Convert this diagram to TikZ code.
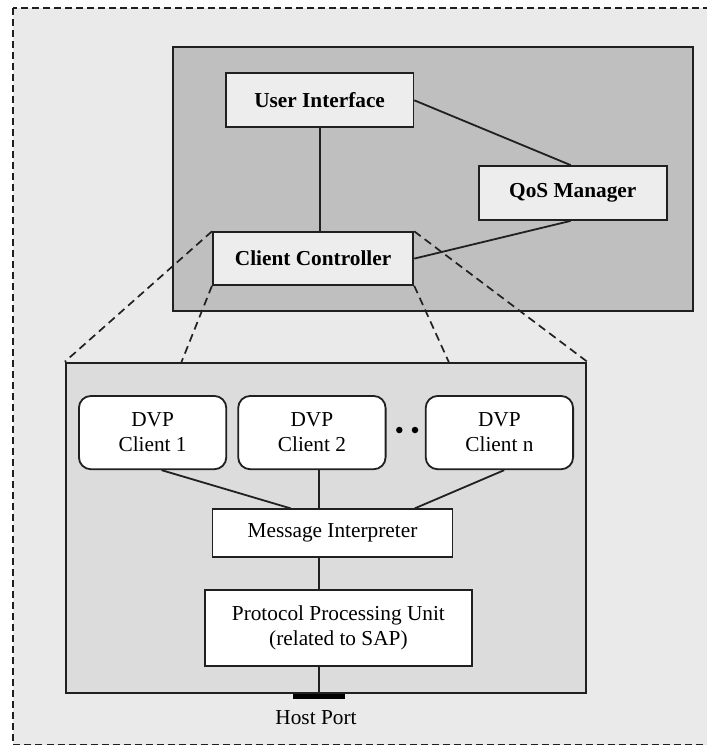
\documentclass[tikz,border=0pt]{standalone}
\usepackage{fontspec}
\setmainfont{Liberation Serif}
\usetikzlibrary{calc}

\definecolor{framebg}{HTML}{EAEAEA}
\definecolor{panelbg}{HTML}{BFBFBF}
\definecolor{modbg}{HTML}{EDEDED}
\definecolor{clientbg}{HTML}{DCDCDC}
\definecolor{ink}{HTML}{202020}

\begin{document}
\begin{tikzpicture}[x=1pt,y=-1pt,
  every node/.style={font=\fontsize{21.3}{25}\selectfont, inner sep=0pt, text=black},
  panel/.style={draw=ink, line width=2pt, rectangle},
  module/.style={draw=ink, line width=1.8pt, fill=modbg, rectangle, font=\fontsize{21.3}{25}\selectfont\bfseries},
  unit/.style={draw=ink, line width=1.8pt, fill=white, rectangle, align=center},
  client/.style={unit, rounded corners=12pt, minimum width=147.4pt, minimum height=73.3pt},
  link/.style={draw=ink, line width=1.8pt},
  zoomline/.style={draw=ink, line width=1.7pt, dash pattern=on 8pt off 5pt},
  dot/.style={circle, fill=black, minimum size=6.5pt}
]
  % canvas and dashed outer frame
  \useasboundingbox (0,0) rectangle (707,745);
  \fill[white] (0,0) rectangle (707,745);
  \draw[fill=framebg, draw=ink, line width=1.8pt, dash pattern=on 7pt off 4pt]
    (13,8) rectangle (725,744.5);

  % controller panel and client panel
  \node[panel, fill=panelbg, minimum width=520.3pt, minimum height=263.4pt] (ctrl) at (432.85,179) {};
  \node[panel, fill=clientbg, minimum width=520.3pt, minimum height=330pt] (dvp) at (326.05,527.7) {};

  % modules of the controller panel
  \node[module, minimum width=187.6pt, minimum height=54pt] (ui) at (319.6,100.3) {User Interface};
  \node[module, minimum width=188.3pt, minimum height=54pt] (qos) at (572.8,193) {QoS Manager};
  \node[module, minimum width=200.5pt, minimum height=52.7pt] (cc) at (313.1,258.6) {Client Controller};

  \draw[link] (ui.south) -- (ui.south |- cc.north);
  \draw[link] (ui.east) -- ([xshift=-2.2pt]qos.north);
  \draw[link] ([xshift=-2.2pt]qos.south) -- (cc.east);

  % expansion of the client controller
  \coordinate (z1) at (181.2,362.7);
  \coordinate (z2) at (449.1,362.7);
  \draw[zoomline] (cc.north west) -- (dvp.north west);
  \draw[zoomline] (cc.north east) -- (dvp.north east);
  \draw[zoomline] (cc.south west) -- (z1);
  \draw[zoomline] (cc.south east) -- (z2);

  % client panel contents
  \node[client] (c1) at (152.6,432.6) {DVP\\Client 1};
  \node[client] (c2) at (311.9,432.6) {DVP\\Client 2};
  \node[client] (cn) at (499.4,432.6) {DVP\\Client n};
  \node[dot] (d1) at (399.3,430) {};
  \node[dot] (d2) at (415,430) {};

  \node[unit, minimum width=240.1pt, minimum height=47.4pt] (mi) at (332.5,533) {Message Interpreter};
  \node[unit, minimum width=267.6pt, minimum height=75.7pt] (ppu) at (338.4,627.9)
    {Protocol Processing Unit\\(related to SAP)};

  \coordinate (axis) at (319,0);
  \draw[link] ([xshift=9pt]c1.south) -- ([xshift=-41.8pt]mi.north);
  \draw[link] (c2.south -| axis) -- (mi.north -| axis);
  \draw[link] ([xshift=4.8pt]cn.south) -- ([xshift=82.2pt]mi.north);
  \draw[link] (mi.south -| axis) -- (ppu.north -| axis);

  % host port
  \node[fill=black, minimum width=52pt, minimum height=5pt] (port) at (319,696.5) {};
  \draw[link] (ppu.south -| axis) -- (port.north);
  \node[anchor=base] (portlabel) at (316,724) {Host Port};
\end{tikzpicture}
\end{document}
